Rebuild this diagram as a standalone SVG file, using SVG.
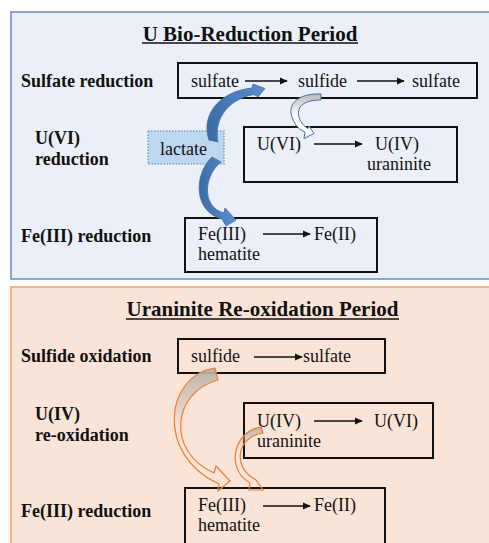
<svg xmlns="http://www.w3.org/2000/svg" width="489" height="543" viewBox="0 0 489 543">
<defs>
<style>
.t{font-family:"Liberation Serif","Times New Roman",serif;font-size:18px;fill:#111}
.b{font-family:"Liberation Serif","Times New Roman",serif;font-size:18px;font-weight:bold;fill:#111}
.h{font-family:"Liberation Serif","Times New Roman",serif;font-size:21px;font-weight:bold;fill:#111;text-anchor:middle}
.box{fill:none;stroke:#111;stroke-width:2}
.ln{stroke:#111;stroke-width:1.3;fill:none}
.blue{stroke:#3f6fa6;stroke-width:0.8}
.org{stroke:#ee7d32;stroke-width:1.2}
</style>
<marker id="ah" viewBox="0 0 10 10" refX="9" refY="5" markerWidth="8" markerHeight="8" markerUnits="userSpaceOnUse" orient="auto">
<path d="M0,0.5 L10,5 L0,9.5 Z" fill="#111"/>
</marker>
<linearGradient id="gb" x1="0" y1="0" x2="1" y2="0">
<stop offset="0" stop-color="#3a6da8"/>
<stop offset="1" stop-color="#5b8fcb"/>
</linearGradient>
<linearGradient id="gc" gradientUnits="userSpaceOnUse" x1="0" y1="94" x2="0" y2="116">
<stop offset="0" stop-color="#b9b9b9"/>
<stop offset="1" stop-color="#ffffff"/>
</linearGradient>
<linearGradient id="gd" gradientUnits="userSpaceOnUse" x1="0" y1="368" x2="0" y2="430">
<stop offset="0" stop-color="#bdb2a8"/>
<stop offset="1" stop-color="#bdb2a8" stop-opacity="0"/>
</linearGradient>
<linearGradient id="ge" gradientUnits="userSpaceOnUse" x1="0" y1="427" x2="0" y2="450">
<stop offset="0" stop-color="#bdb2a8"/>
<stop offset="1" stop-color="#bdb2a8" stop-opacity="0"/>
</linearGradient>
</defs>

<rect x="0" y="0" width="489" height="543" fill="#ffffff"/>

<g id="panel-reduction">
<rect x="11" y="12" width="480" height="267" fill="#ebf0f8" stroke="#6a8cbb" stroke-width="1.5"/>
<text class="h" x="250" y="40.5">U Bio-Reduction Period</text>
<line x1="142" y1="43" x2="358" y2="43" stroke="#111" stroke-width="1.5"/>
</g>
<g id="panel-reoxidation">
<rect x="11" y="287" width="480" height="260" fill="#fae4d7" stroke="#f2a06a" stroke-width="1.5"/>
<text class="h" x="262.5" y="316">Uraninite Re-oxidation Period</text>
<line x1="126" y1="319" x2="399" y2="319" stroke="#111" stroke-width="1.5"/>
</g>

<g id="labels-reduction">
<text class="b" x="21" y="87">Sulfate reduction</text>
<text class="b" x="35" y="144">U(VI)</text>
<text class="b" x="35" y="165">reduction</text>
<text class="b" x="21" y="242">Fe(III) reduction</text>
</g>
<g id="labels-reoxidation">
<text class="b" x="21" y="361.5">Sulfide oxidation</text>
<text class="b" x="35" y="420">U(IV)</text>
<text class="b" x="35" y="440.5">re-oxidation</text>
<text class="b" x="21" y="517">Fe(III) reduction</text>
</g>

<g id="node-sulfate-box">
<rect class="box" x="178" y="63" width="299" height="35"/>
<text class="t" x="191" y="87">sulfate</text>
<line class="ln" x1="245" y1="81" x2="287" y2="81" marker-end="url(#ah)"/>
<text class="t" x="298" y="87">sulfide</text>
<line class="ln" x1="357" y1="81" x2="404" y2="81" marker-end="url(#ah)"/>
<text class="t" x="412" y="87">sulfate</text>
</g>

<g id="node-lactate">
<rect x="148" y="131" width="76" height="33" fill="#bdd7ee" stroke="#7f9dc4" stroke-width="1.5" stroke-dasharray="1.5 1.5"/>
<text class="t" x="160" y="155">lactate</text>
</g>

<g id="node-uvi-box">
<rect class="box" x="244" y="127" width="213" height="55"/>
<text class="t" x="257" y="150">U(VI)</text>
<line class="ln" x1="314" y1="144" x2="362" y2="144" marker-end="url(#ah)"/>
<text class="t" x="375" y="150">U(IV)</text>
<text class="t" x="367" y="170">uraninite</text>
</g>

<g id="node-fe-box-1">
<rect class="box" x="185" y="218" width="192" height="54"/>
<text class="t" x="198" y="240">Fe(III)</text>
<line class="ln" x1="263" y1="234" x2="310" y2="234" marker-end="url(#ah)"/>
<text class="t" x="314" y="240">Fe(II)</text>
<text class="t" x="198" y="260">hematite</text>
</g>

<g id="node-sulfide-box">
<rect class="box" x="178" y="339" width="207" height="34"/>
<text class="t" x="191" y="362">sulfide</text>
<line class="ln" x1="254" y1="357" x2="302" y2="357" marker-end="url(#ah)"/>
<text class="t" x="303" y="362">sulfate</text>
</g>

<g id="node-uiv-box">
<rect class="box" x="244" y="403" width="189" height="55"/>
<text class="t" x="257" y="427">U(IV)</text>
<line class="ln" x1="314" y1="421" x2="362" y2="421" marker-end="url(#ah)"/>
<text class="t" x="374" y="427">U(VI)</text>
<text class="t" x="257" y="446.5">uraninite</text>
</g>

<g id="node-fe-box-2">
<rect class="box" x="185" y="488" width="200" height="60"/>
<text class="t" x="198" y="510.5">Fe(III)</text>
<line class="ln" x1="263" y1="506" x2="310" y2="506" marker-end="url(#ah)"/>
<text class="t" x="314" y="510.5">Fe(II)</text>
<text class="t" x="198" y="531">hematite</text>
</g>

<g id="connectors">
<path class="blue" fill="url(#gb)" d="M209,140 C201,118 216,92 252,88 L253,84 L265,88.5 L258,97 L254,94.5 C232,98 213,116 218,142 Z"/>
<path class="blue" fill="url(#gb)" d="M212,157 C193,175 194,212 222,219 L226,226 L236,220 L225,208 L224,213 C201,207 204,175 221,162 Z"/>
<path stroke="#3f6fa6" stroke-width="1" fill="url(#gc)" d="M321,94 C300,93 287,103 292,117 C295,126 300,130 305,132 L304,138.5 L314,133.5 L309,126 L308,128.5 C300,124 296,114 300,107 C304,102 311,100 321,100 Z"/>
<path class="org" fill="url(#gd)" d="M215,368 C165,375 155,455 219,484 L218,491 L230,481 L216,466 L214,473 C166,452 172,392 218,380 Z"/>
<path class="org" fill="url(#ge)" d="M261,427 C235,430 224,468 250,483 L249,490 L263,490 L256,480 L253,478 C232,465 238,436 263,433 Z"/>
</g>
</svg>
